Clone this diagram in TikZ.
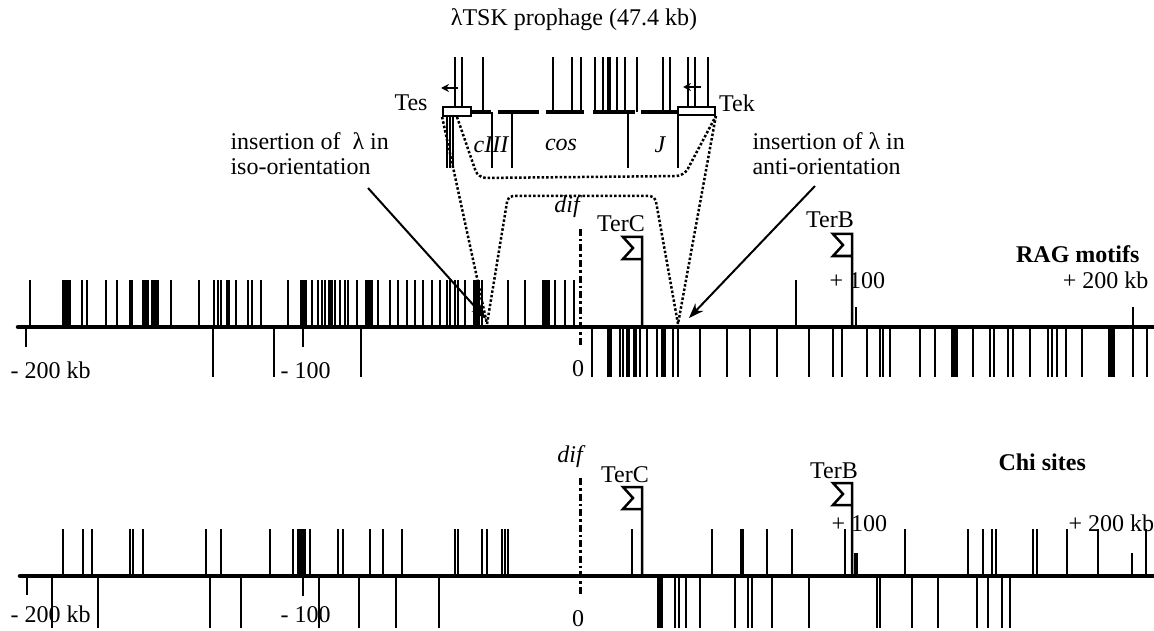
\documentclass[tikz,border=0pt]{standalone}
\usepackage{fontspec}
\setmainfont{Liberation Serif}
\usetikzlibrary{arrows.meta}
\newcommand{\terflag}[3]{\draw[flag] (#1,#3) -- (#1,#2) -- ++(-19,0) -- ++(10,11) -- ++(-10,11) -- ++(19,0);}

\begin{document}
\begin{tikzpicture}[x=1pt,y=-1pt,font=\fontsize{24}{26}\selectfont,
    site/.style={line width=2.2pt},
    axis/.style={line width=4.5pt,line cap=round},
    flag/.style={line width=2.5pt,line join=miter},
    trace/.style={line width=2.5pt,dash pattern=on 2.5pt off 2pt},
    difline/.style={line width=3pt,dash pattern=on 7pt off 3pt on 2.5pt off 3pt},
    pointer/.style={line width=2pt,-{Stealth[length=15pt,width=11pt]}},
    turn/.style={line width=2.2pt,-{Stealth[length=8pt,width=8pt]}},
    genebox/.style={draw,fill=white,line width=1.8pt,inner sep=0pt}]
  \useasboundingbox (0,0) rectangle (1154,631);
  \begin{scope}
    \node (title) at (574,20) {λTSK prophage (47.4 kb)};
    \foreach \x in {483,553,572,581,595,603,617,625,637,663,670}
      \draw[site] (\x,112) -- (\x,57);
    \draw[site,line width=4pt] (609,112) -- (609,57);
    \foreach \x in {455,462,688,695,708}
      \draw[site] (\x,107) -- (\x,57);
    \foreach \x in {447,450,453,492,512,628,678}
      \draw[site] (\x,112) -- (\x,168);
    \foreach \a/\b in {471/491,498/539,546/584,593/635,641/678}
      \draw[line width=3.5pt] (\a,112) -- (\b,112);
    \node[genebox,minimum width=28pt,minimum height=9pt] (tesbox) at (457,111.5) {};
    \node[genebox,minimum width=37pt,minimum height=8pt] (tekbox) at (696.5,111) {};
    \draw[turn] (458,88) -- (441,88);
    \draw[turn] (701,87) -- (683,87);
    \node (tes) at (411,103) {Tes};
    \node (tek) at (737,103) {Tek};
    \node[font=\fontsize{24}{26}\selectfont\itshape] (c3) at (491,145) {cIII};
    \node[font=\fontsize{24}{26}\selectfont\itshape] (cos) at (561,145) {cos};
    \node[font=\fontsize{24}{26}\selectfont\itshape] (jgene) at (660,145) {J};
    \coordinate (isopt) at (487,324);
    \coordinate (antipt) at (678,324);
    \draw[trace] (tesbox.south west) -- (isopt);
    \draw[trace] (tekbox.south east) -- (antipt);
    \draw[trace,rounded corners=8pt] (tesbox.south) -- (478,178) -- (684,176) -- (tekbox.south east);
    \draw[trace,rounded corners=5pt] (isopt) -- (508,196) -- (655,196) -- (antipt);
    \node[anchor=base west] (isotop) at (227,150) {insertion of ~λ in};
    \node[anchor=base west] (isobot) at (227,175) {iso-orientation};
    \node[anchor=base west] (antitop) at (749,150) {insertion of λ in};
    \node[anchor=base west] (antibot) at (749,175) {anti-orientation};
    \coordinate (isotail) at (368,188);
    \coordinate (antitail) at (815,186);
    \draw[pointer] (isotail) -- (486,319);
    \draw[pointer] (antitail) -- (689,318);
  \end{scope}
  \begin{scope}
    \foreach \x in {30,82,87,106,117,171,199,214,218,221,236,248,252,261,288,312,318,322,325,335,340,345,348,357,378,390,398,407,415,423,432,440,447,450,455,458,465,482,508,525,555,565,574,796}
      \draw[site] (\x,327) -- (\x,280);
    \foreach \x/\w in {66/9,131/4,145/7,155/8,228/4,303/7,330/5,369/8,476/7,546/8}
      \draw[site,line width=\w pt] (\x,327) -- (\x,280);
    \foreach \x in {213,274,361,592,620,623,627,629,640,647,657,673,678,700,727,750,777,809,833,842,867,880,883,890,920,935,973,990,994,1008,1013,1030,1048,1052,1057,1066,1082,1133,1147}
      \draw[site] (\x,327) -- (\x,377);
    \foreach \x/\w in {609/5,635/4,663/5,954/7,1111/7}
      \draw[site,line width=\w pt] (\x,327) -- (\x,377);
    \foreach \x/\a in {26/347,303/347,856/307,1133/307}
      \draw[site] (\x,327) -- (\x,\a);
    \draw[axis] (18,327) -- (1160,327);
    \draw[difline] (580,229) -- (580,347);
    \terflag{642}{237}{327}
    \terflag{852}{234}{327}
    \node[anchor=base,font=\fontsize{24}{26}\selectfont\itshape] (rdif) at (567,213) {dif};
    \node[anchor=base] (rterc) at (621,232) {TerC};
    \node[anchor=base] (rterb) at (830,228) {TerB};
    \node[anchor=base east,font=\fontsize{24}{26}\selectfont\bfseries] (ragname) at (1143,262) {RAG motifs};
    \node[anchor=base west] (rm200) at (7,378) {- 200 kb};
    \node[anchor=base west] (rm100) at (277,378) {- 100};
    \node[anchor=base] (rzero) at (578,376) {0};
    \node[anchor=base west] (rp100) at (826,288) {+ 100};
    \node[anchor=base east] (rp200) at (1152,288) {+ 200 kb};
  \end{scope}
  \begin{scope}
    \foreach \x in {63,83,92,130,133,143,206,221,270,293,310,338,343,370,383,402,455,458,482,487,502,505,508,632,712,767,792,845,905,968,983,992,996,1033,1037,1067,1098,1146}
      \draw[site] (\x,576) -- (\x,529);
    \foreach \x/\w in {301/9,742/4}
      \draw[site,line width=\w pt] (\x,576) -- (\x,529);
    \foreach \x in {52,98,210,241,319,359,396,439,675,679,686,700,735,748,752,772,809,877,880,912,938,977,988,1002,1010}
      \draw[site] (\x,576) -- (\x,628);
    \draw[site,line width=6pt] (660,576) -- (660,628);
    \foreach \x/\a in {27/595,303/596,1132/553}
      \draw[site] (\x,576) -- (\x,\a);
    \draw[site,line width=4pt] (856,576) -- (856,553);
    \draw[axis] (20,576) -- (1160,576);
    \draw[difline] (580,478) -- (580,595);
    \terflag{642}{487}{576}
    \terflag{852}{483}{576}
    \node[anchor=base,font=\fontsize{24}{26}\selectfont\itshape] (cdif) at (570,462) {dif};
    \node[anchor=base] (cterc) at (625,482) {TerC};
    \node[anchor=base] (cterb) at (834,478) {TerB};
    \node[anchor=base west,font=\fontsize{24}{26}\selectfont\bfseries] (chiname) at (995,470) {Chi sites};
    \node[anchor=base west] (cm200) at (7,622) {- 200 kb};
    \node[anchor=base west] (cm100) at (277,622) {- 100};
    \node[anchor=base] (czero) at (578,626) {0};
    \node[anchor=base west] (cp100) at (828,531) {+ 100};
    \node[anchor=base west] (cp200) at (1065,531) {+ 200 kb};
  \end{scope}
\end{tikzpicture}
\end{document}
